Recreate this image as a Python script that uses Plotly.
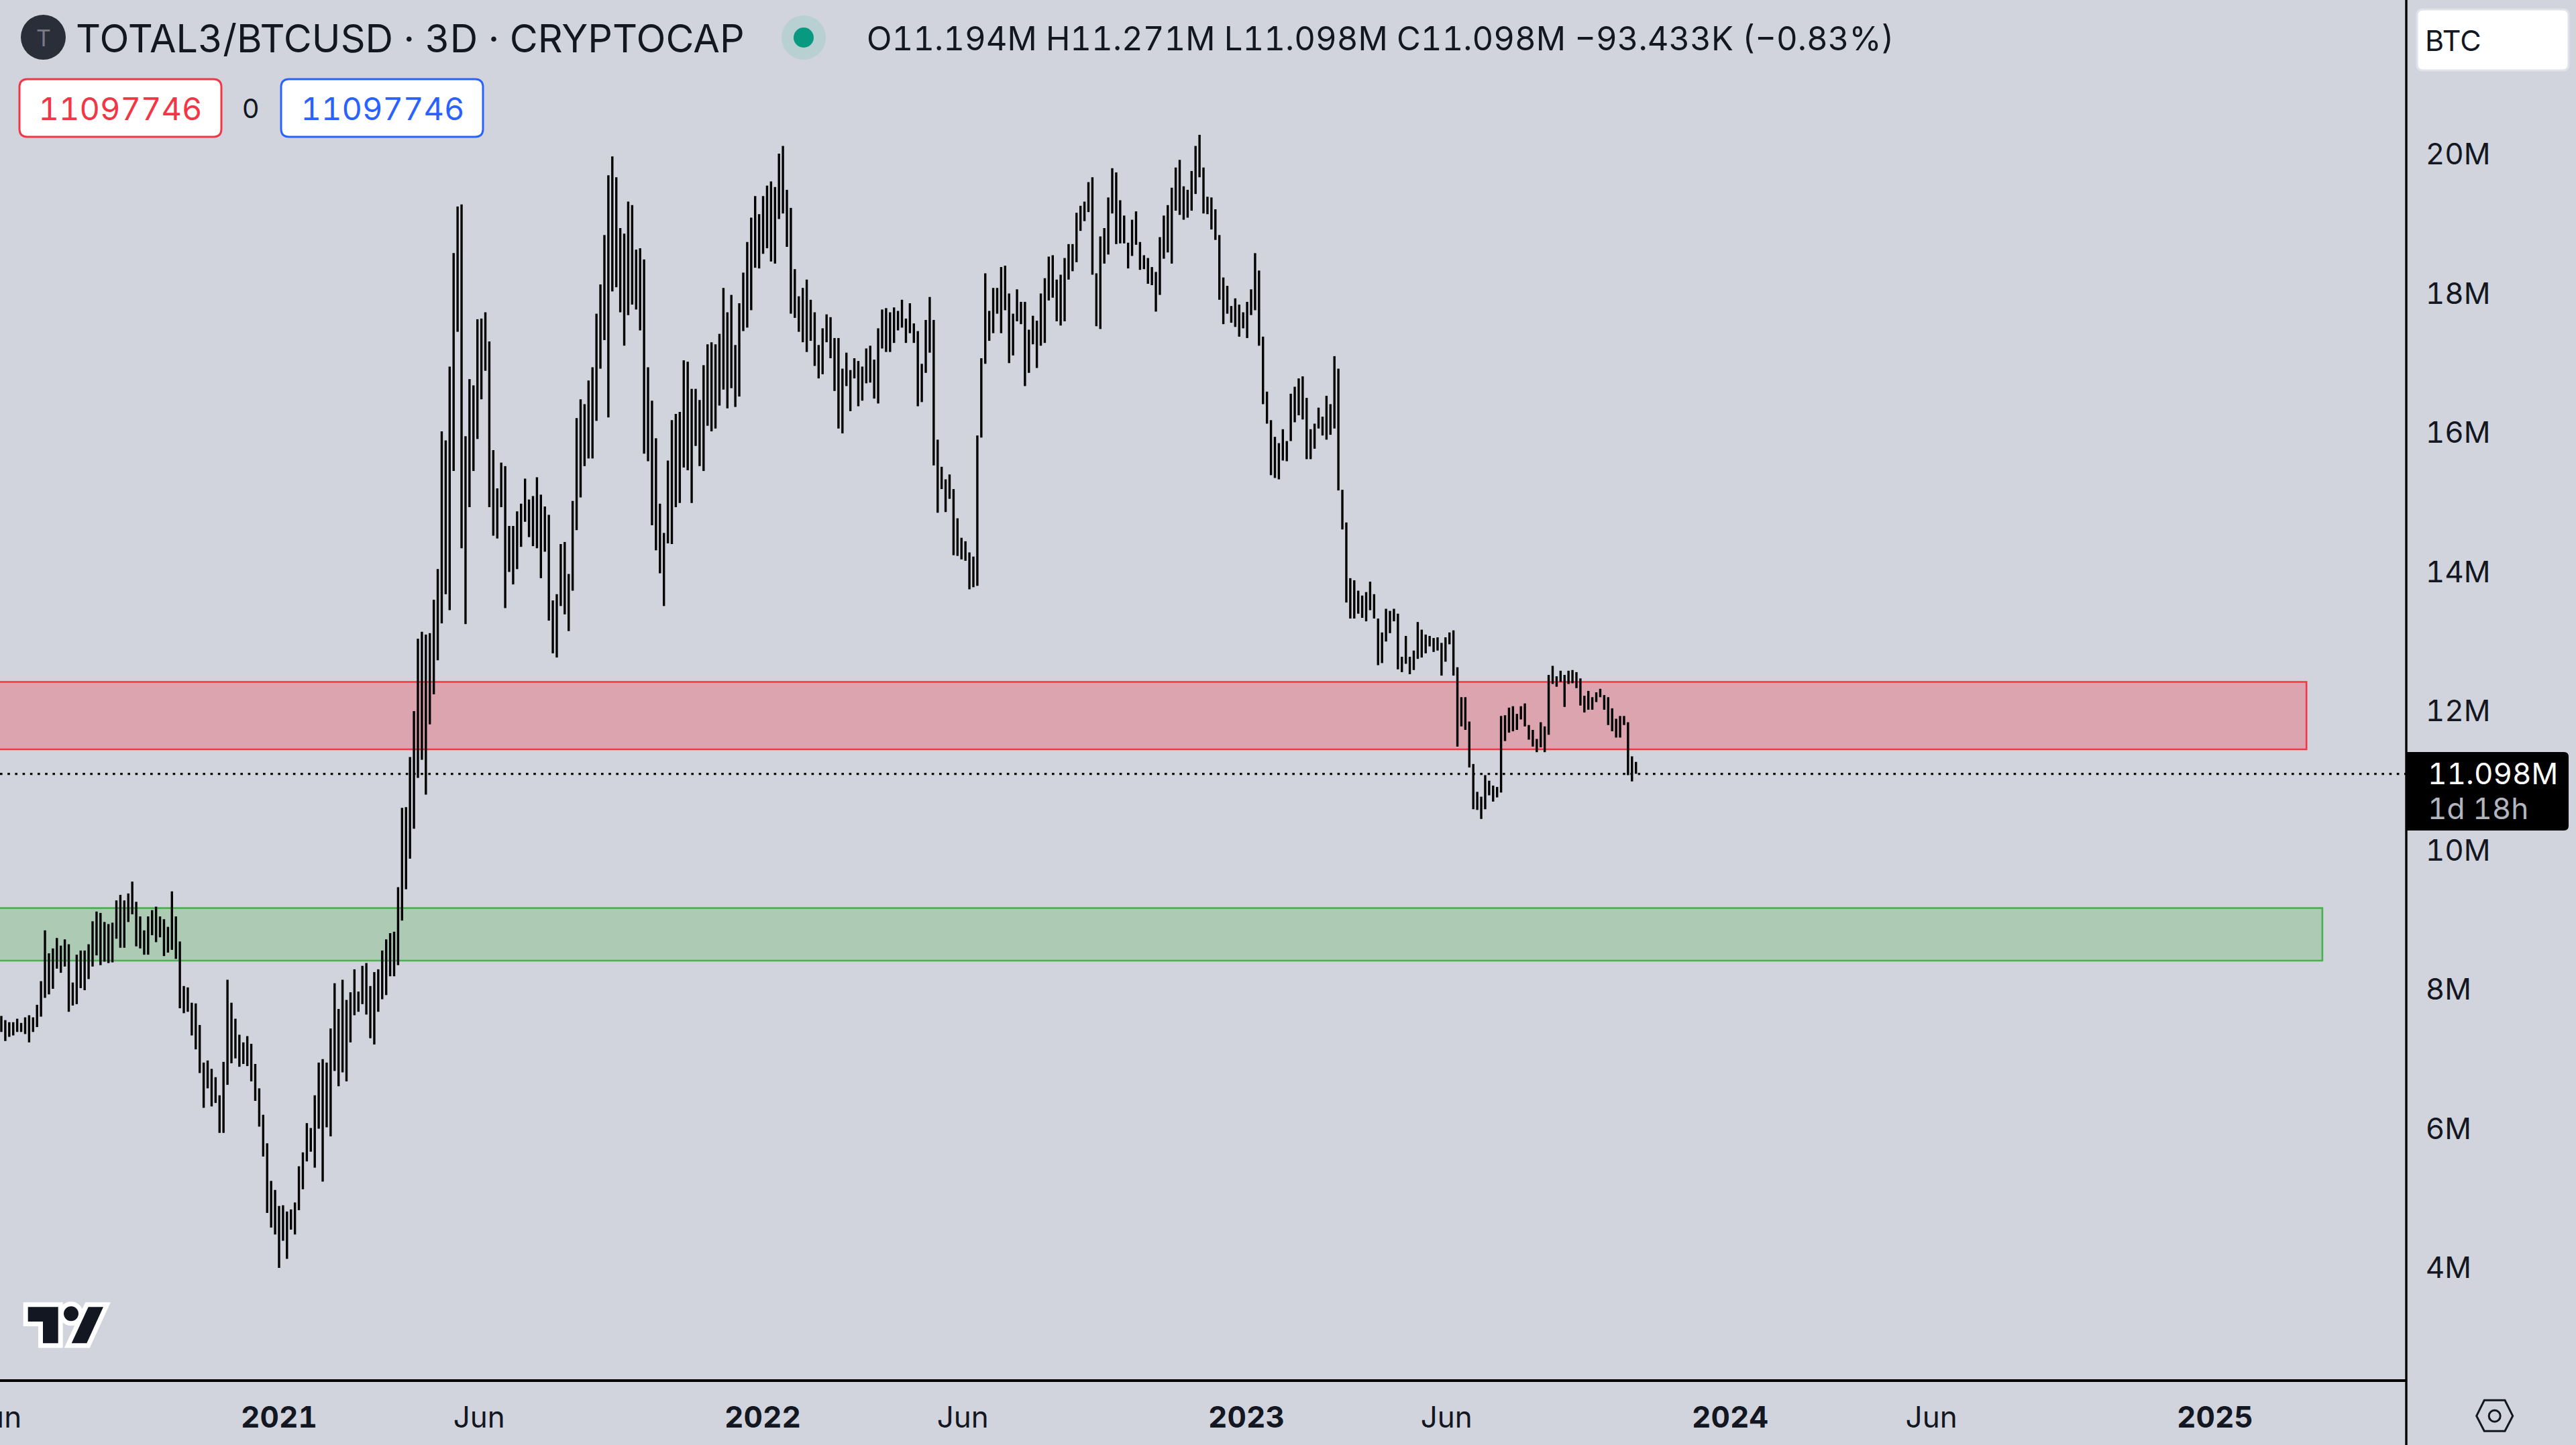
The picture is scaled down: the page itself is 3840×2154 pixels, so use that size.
import pandas as pd
import plotly.graph_objects as go

# bar highs and lows, in millions
high_m = [
    7.62, 7.56, 7.53, 7.53, 7.58, 7.52, 7.60, 7.63, 7.60, 7.78,
    8.12, 8.85, 8.52, 8.59, 8.74, 8.63, 8.72, 8.65, 8.10, 8.50,
    8.56, 8.56, 8.65, 8.98, 9.12, 9.10, 8.97, 8.94, 8.96, 9.28,
    9.36, 9.28, 9.38, 9.55, 9.26, 9.05, 8.85, 9.05, 9.14, 9.19,
    9.05, 9.01, 8.90, 9.41, 9.05, 8.69, 8.05, 8.03, 7.81, 7.80,
    7.49, 6.95, 6.98, 6.86, 6.74, 6.48, 6.96, 8.14, 7.81, 7.58,
    7.35, 7.24, 7.33, 7.22, 6.93, 6.58, 6.20, 5.79, 5.25, 5.12,
    4.89, 4.90, 4.81, 4.84, 4.94, 5.46, 5.66, 6.08, 6.01, 6.48,
    6.95, 7.00, 6.95, 7.44, 8.09, 7.72, 8.14, 7.85, 7.96, 8.29,
    7.97, 8.34, 8.38, 8.05, 8.25, 8.29, 8.56, 8.72, 8.81, 8.83,
    9.47, 10.61, 10.62, 11.34, 12.00, 13.04, 13.14, 13.10, 13.12, 13.60,
    14.04, 16.02, 15.89, 16.95, 18.58, 19.25, 19.28, 15.95, 16.77, 16.68,
    17.63, 17.64, 17.73, 17.31, 15.75, 15.20, 15.57, 15.52, 14.66, 14.66,
    14.87, 14.98, 15.34, 15.04, 15.09, 15.36, 15.11, 14.94, 14.82, 13.59,
    13.68, 14.40, 14.43, 13.97, 15.02, 16.21, 16.48, 16.41, 16.75, 16.94,
    17.71, 18.13, 18.84, 19.70, 19.97, 19.67, 18.94, 18.86, 19.32, 19.27,
    18.63, 18.65, 18.49, 16.94, 16.46, 15.92, 14.98, 14.56, 15.60, 16.18,
    16.27, 16.30, 17.04, 17.02, 16.63, 16.63, 16.47, 16.97, 17.27, 17.30,
    17.27, 17.42, 18.08, 17.73, 17.98, 17.26, 17.86, 18.30, 18.74, 19.09,
    19.40, 19.14, 19.40, 19.55, 19.61, 19.53, 20.01, 20.12, 19.49, 19.23,
    18.35, 17.96, 18.08, 18.20, 17.91, 17.73, 17.26, 17.50, 17.70, 17.66,
    17.36, 17.36, 16.92, 17.15, 16.90, 17.07, 17.03, 16.95, 17.21, 17.25,
    17.05, 17.50, 17.77, 17.79, 17.73, 17.80, 17.75, 17.91, 17.64, 17.86,
    17.57, 17.46, 16.99, 17.62, 17.95, 17.62, 15.90, 15.51, 15.33, 15.40,
    15.19, 14.77, 14.49, 14.44, 14.28, 14.22, 15.96, 17.07, 18.29, 17.75,
    18.08, 18.08, 18.38, 18.40, 18.00, 17.71, 18.06, 17.88, 17.88, 17.48,
    17.68, 17.61, 18.00, 18.22, 18.53, 18.55, 18.20, 18.27, 18.51, 18.71,
    18.71, 19.16, 19.26, 19.32, 19.60, 19.67, 18.29, 18.82, 18.94, 19.38,
    19.80, 19.74, 19.34, 19.12, 18.73, 19.06, 19.18, 18.74, 18.55, 18.51,
    18.38, 18.31, 18.81, 19.12, 19.27, 19.52, 19.81, 19.92, 19.54, 19.49,
    19.76, 20.12, 20.28, 19.81, 19.39, 19.38, 19.21, 18.84, 18.23, 18.11,
    17.82, 17.93, 17.84, 17.73, 17.88, 18.06, 18.58, 18.33, 17.38, 16.59,
    16.18, 15.94, 15.85, 16.05, 15.88, 16.56, 16.66, 16.78, 16.81, 16.50,
    16.05, 16.13, 16.36, 16.23, 16.53, 16.41, 17.10, 16.92, 15.18, 14.71,
    13.91, 13.88, 13.73, 13.66, 13.71, 13.86, 13.68, 13.33, 13.13, 13.47,
    13.44, 13.47, 13.40, 12.78, 13.08, 12.78, 12.87, 13.28, 13.17, 13.10,
    13.08, 13.05, 13.06, 12.98, 13.06, 13.13, 13.16, 12.63, 12.20, 12.20,
    11.85, 11.24, 10.84, 10.77, 11.08, 11.00, 10.93, 10.91, 11.93, 11.94,
    12.05, 12.07, 11.96, 12.07, 12.11, 11.80, 11.73, 11.60, 11.84, 11.78,
    12.52, 12.65, 12.50, 12.58, 12.52, 12.58, 12.59, 12.56, 12.47, 12.22,
    12.29, 12.20, 12.27, 12.32, 12.23, 12.20, 12.04, 11.89, 11.93, 11.93,
    11.84, 11.35, 11.27,
]
low_m = [
    7.39, 7.26, 7.32, 7.34, 7.39, 7.39, 7.36, 7.24, 7.39, 7.46,
    7.61, 7.88, 7.93, 8.01, 8.30, 8.24, 8.33, 7.68, 7.77, 7.79,
    8.02, 7.99, 8.15, 8.33, 8.49, 8.35, 8.40, 8.38, 8.39, 8.73,
    8.60, 8.60, 8.97, 9.08, 8.62, 8.59, 8.50, 8.50, 8.78, 8.68,
    8.75, 8.48, 8.53, 8.57, 8.44, 7.73, 7.66, 7.68, 7.34, 7.14,
    6.80, 6.30, 6.58, 6.32, 6.37, 5.94, 5.94, 6.63, 6.94, 7.01,
    6.89, 6.93, 6.90, 6.68, 6.40, 6.03, 5.60, 4.79, 4.58, 4.48,
    4.00, 4.39, 4.13, 4.55, 4.48, 4.83, 5.13, 5.53, 5.67, 5.44,
    6.00, 5.24, 6.02, 5.89, 6.83, 6.61, 6.81, 6.68, 7.24, 7.63,
    7.68, 7.79, 7.64, 7.30, 7.21, 7.68, 7.86, 7.92, 8.19, 8.19,
    8.35, 8.99, 9.44, 9.88, 10.31, 11.04, 11.30, 10.80, 11.81, 12.24,
    12.73, 13.26, 13.68, 13.45, 15.45, 17.45, 14.34, 13.25, 14.93, 15.45,
    15.91, 16.48, 16.89, 14.93, 14.52, 14.48, 14.93, 13.48, 14.00, 13.82,
    14.04, 14.36, 14.72, 14.50, 14.37, 14.34, 13.91, 14.29, 13.30, 12.83,
    12.77, 13.51, 13.39, 13.15, 13.73, 14.60, 15.07, 15.52, 15.63, 15.63,
    16.17, 16.92, 17.33, 16.22, 18.03, 18.09, 17.73, 17.25, 17.69, 17.84,
    17.77, 17.47, 15.70, 15.59, 14.67, 14.31, 13.98, 13.51, 14.41, 14.40,
    14.93, 14.99, 15.50, 15.46, 14.99, 15.81, 15.52, 15.45, 16.10, 16.02,
    16.06, 16.39, 16.62, 16.35, 16.64, 16.37, 16.52, 17.46, 17.51, 17.76,
    18.37, 18.36, 18.57, 18.65, 18.46, 18.43, 19.07, 19.15, 18.67, 17.71,
    17.65, 17.45, 17.30, 17.16, 17.32, 16.96, 16.78, 16.84, 17.30, 17.07,
    16.60, 16.06, 15.99, 16.67, 16.31, 16.78, 16.38, 16.46, 16.71, 16.72,
    16.49, 16.42, 17.21, 17.16, 17.16, 17.29, 17.47, 17.51, 17.29, 17.43,
    17.29, 16.38, 16.44, 16.86, 17.15, 15.53, 14.85, 15.19, 14.86, 15.05,
    14.24, 14.23, 14.18, 14.16, 13.75, 13.78, 13.80, 15.93, 16.99, 17.32,
    17.43, 17.71, 17.43, 17.76, 17.00, 17.11, 17.60, 17.56, 16.67, 16.86,
    17.27, 16.93, 17.25, 17.29, 17.90, 17.94, 17.60, 17.54, 17.60, 18.20,
    18.32, 18.45, 18.90, 19.04, 19.17, 18.27, 17.53, 17.49, 18.43, 18.56,
    19.15, 18.71, 18.72, 18.72, 18.36, 18.54, 18.70, 18.34, 18.35, 18.14,
    18.12, 17.74, 17.98, 18.50, 18.59, 18.43, 19.19, 19.13, 19.06, 19.09,
    19.19, 19.43, 19.67, 19.15, 19.14, 18.92, 18.77, 17.91, 17.56, 17.71,
    17.58, 17.52, 17.38, 17.50, 17.36, 17.69, 17.76, 17.25, 16.41, 16.13,
    15.39, 15.35, 15.33, 15.60, 15.59, 15.88, 16.15, 16.25, 16.19, 15.62,
    15.62, 15.77, 16.06, 15.96, 15.90, 15.97, 16.06, 15.17, 14.61, 13.56,
    13.33, 13.33, 13.40, 13.34, 13.29, 13.45, 13.33, 12.66, 12.69, 13.00,
    13.12, 13.29, 12.60, 12.56, 12.68, 12.53, 12.59, 12.75, 12.77, 12.83,
    12.93, 12.85, 12.87, 12.51, 12.71, 12.96, 12.51, 11.49, 11.78, 11.73,
    11.19, 10.59, 10.58, 10.45, 10.59, 10.79, 10.70, 10.76, 10.83, 11.57,
    11.69, 11.71, 11.73, 11.88, 11.78, 11.59, 11.49, 11.41, 11.48, 11.41,
    11.66, 12.39, 12.35, 12.42, 12.06, 12.39, 12.40, 12.33, 12.08, 11.98,
    12.02, 12.02, 12.13, 12.20, 12.02, 11.80, 11.71, 11.62, 11.62, 11.80,
    11.08, 10.99, 11.10,
]
# the bars run slightly under three calendar days apart on this time scale
bar_dates = pd.date_range("2020-06-05 10:00", "2023-10-22", periods=len(high_m))

price_ticks = [4, 6, 8, 10, 12, 14, 16, 18, 20]
price_labels = ["4M", "6M", "8M", "10M", "12M", "14M", "16M", "18M", "20M"]
date_ticks = ["2021-01-01", "2021-06-01", "2022-01-01", "2022-06-01", "2023-01-01",
              "2023-06-01", "2024-01-01", "2024-06-01", "2025-01-01"]
date_labels = ["<b>2021</b>", "Jun", "<b>2022</b>", "Jun", "<b>2023</b>",
               "Jun", "<b>2024</b>", "Jun", "<b>2025</b>"]

last_price = 11.098
red_zone = (11.45, 12.42)
green_zone = (8.415, 9.17)

BG = "#d1d4dc"
INK = "#131722"
RED = "#f23645"
GREEN = "#4caf50"
BLUE = "#2962ff"
FONT = "Inter, Roboto, sans-serif"
W, H = 3840, 2154
PLOT_W, PLOT_H = 3587, 2056


# page pixels to paper coordinates, for the chart furniture
def px(x):
    return x / PLOT_W


def py(y):
    return 1 - y / PLOT_H


def poly(points):
    return "M " + " L ".join(f"{px(x)},{py(y)}" for x, y in points) + " Z"


def rrect(x0, y0, x1, y1, r):
    return (
        f"M {px(x0 + r)},{py(y0)} L {px(x1 - r)},{py(y0)} Q {px(x1)},{py(y0)} {px(x1)},{py(y0 + r)} "
        f"L {px(x1)},{py(y1 - r)} Q {px(x1)},{py(y1)} {px(x1 - r)},{py(y1)} "
        f"L {px(x0 + r)},{py(y1)} Q {px(x0)},{py(y1)} {px(x0)},{py(y1 - r)} "
        f"L {px(x0)},{py(y0 + r)} Q {px(x0)},{py(y0)} {px(x0 + r)},{py(y0)} Z"
    )


def paper_path(path, fill=None, line=None, width=0):
    return dict(type="path", xref="paper", yref="paper", path=path, fillcolor=fill,
                line=dict(color=line, width=width), layer="above")


def circle(cx, cy, r, fill=None, line=None, width=0):
    return dict(type="circle", xref="paper", yref="paper", x0=px(cx - r), x1=px(cx + r),
                y0=py(cy + r), y1=py(cy - r), fillcolor=fill,
                line=dict(color=line, width=width), layer="above")


def label(x, y, text, size, color=INK, anchor="left"):
    return dict(xref="paper", yref="paper", x=px(x), y=py(y), text=text, showarrow=False,
                xanchor=anchor, align=anchor, yanchor="middle", borderpad=0,
                font=dict(family=FONT, size=size, color=color))


fig = go.Figure()
fig.add_trace(go.Ohlc(
    x=bar_dates, open=low_m, high=high_m, low=low_m, close=high_m, tickwidth=0,
    increasing=dict(line=dict(color="#000000", width=3.4)),
    decreasing=dict(line=dict(color="#000000", width=3.4)),
    hoverinfo="skip", showlegend=False,
))

logo_t = [(41.7, 1948.3), (86.7, 1948.3), (86.7, 2002.3), (64, 2002.3), (64, 1970), (41.7, 1970)]
logo_v = [(131.7, 1948.3), (154, 1948.3), (129.3, 2002.3), (106.7, 2002.3)]
hexagon = [(3703.3, 2087.3), (3734, 2087.3), (3745.7, 2110.7), (3734, 2133.3), (3703.3, 2133.3), (3691.7, 2110.7)]

shapes = [
    dict(type="rect", xref="x", yref="y", x0="2020-01-01", x1="2025-03-11", y0=red_zone[0], y1=red_zone[1],
         fillcolor="rgba(242,54,69,0.3)", line=dict(color=RED, width=2.6), layer="below"),
    dict(type="rect", xref="x", yref="y", x0="2020-01-01", x1="2025-03-23", y0=green_zone[0], y1=green_zone[1],
         fillcolor="rgba(76,175,80,0.28)", line=dict(color=GREEN, width=2.6), layer="below"),
    dict(type="line", xref="paper", yref="y", x0=0, x1=1, y0=last_price, y1=last_price,
         line=dict(color="#000000", width=3.4, dash="3.6px,7.6px"), layer="above"),
    # right scale border runs down through the time scale
    dict(type="line", xref="paper", yref="paper", x0=1, x1=1, y0=py(H), y1=py(0),
         line=dict(color="#000000", width=3.4), layer="above"),
    # header
    circle(64.5, 55.5, 33.5, fill="#2a2e39"),
    circle(1198, 56, 33, fill="#b8d0d1"),
    circle(1198, 56, 15, fill="#089981"),
    paper_path(rrect(29, 118, 330, 204, 12), fill="#ffffff", line=RED, width=3),
    paper_path(rrect(419, 118, 720, 204, 12), fill="#ffffff", line=BLUE, width=3),
    paper_path(rrect(3603, 14, 3829, 105, 9), fill="#ffffff", line="#dfe2ea", width=3),
    # last price flag
    paper_path(
        f"M {px(3587)},{py(1121)} L {px(3822)},{py(1121)} Q {px(3829)},{py(1121)} {px(3829)},{py(1128)} "
        f"L {px(3829)},{py(1231)} Q {px(3829)},{py(1238)} {px(3822)},{py(1238)} L {px(3587)},{py(1238)} Z",
        fill="#000000"),
    # watermark
    paper_path(poly(logo_t), fill="#ffffff", line="#ffffff", width=14),
    paper_path(poly(logo_v), fill="#ffffff", line="#ffffff", width=14),
    circle(106, 1958.3, 11, fill="#ffffff", line="#ffffff", width=14),
    paper_path(poly(logo_t), fill=INK),
    paper_path(poly(logo_v), fill=INK),
    circle(106, 1958.3, 11, fill=INK),
    # settings icon
    paper_path(poly(hexagon), line=INK, width=3),
    circle(3718.7, 2110.7, 8.5, line=INK, width=3),
]

annotations = [
    label(64.5, 56, "T", 34, "#787b86", "center"),
    label(112, 57, "TOTAL3/BTCUSD · 3D · CRYPTOCAP", 57.5),
    label(1291, 57, "O11.194M H11.271M L11.098M C11.098M −93.433K (−0.83%)", 49),
    label(179, 162, "11097746", 47, RED, "center"),
    label(373, 162, "0", 40, INK, "center"),
    label(570, 162, "11097746", 47, BLUE, "center"),
    label(3614, 60, "BTC", 43),
    label(3618, 1153, "11.098M", 44, "#ffffff"),
    label(3618, 1205, "1d 18h", 44, "#b2b5be"),
    label(33, 2112, "Jun", 44, INK, "right"),
]

fig.update_layout(
    width=W,
    height=H,
    margin=dict(l=0, r=W - PLOT_W, t=0, b=H - PLOT_H, pad=0),
    paper_bgcolor=BG,
    plot_bgcolor=BG,
    font=dict(family=FONT, size=44, color=INK),
    showlegend=False,
    shapes=shapes,
    annotations=annotations,
    xaxis=dict(
        type="date",
        range=["2020-06-04 10:00", "2025-05-25 08:00"],
        rangeslider=dict(visible=False),
        tickmode="array",
        tickvals=date_ticks,
        ticktext=date_labels,
        showgrid=False,
        zeroline=False,
        showline=True,
        linecolor="#000000",
        linewidth=4,
        ticks="outside",
        ticklen=15,
        tickcolor=BG,
        tickangle=0,
    ),
    yaxis=dict(
        side="right",
        range=[2.40, 22.217],
        tickmode="array",
        tickvals=price_ticks,
        ticktext=price_labels,
        showgrid=False,
        zeroline=False,
        showline=False,
        ticks="outside",
        ticklen=19,
        tickcolor=BG,
    ),
)

# tabular digits, as the reference's font sets its numbers
page_fix = """
document.body.style.margin='0';
document.body.style.overflow='hidden';
var s=document.createElement('style');
s.textContent='svg text{font-feature-settings:"tnum" 1;}';
document.head.appendChild(s);
"""
fig.write_html("out.html", config={"displayModeBar": False}, post_script=page_fix)
